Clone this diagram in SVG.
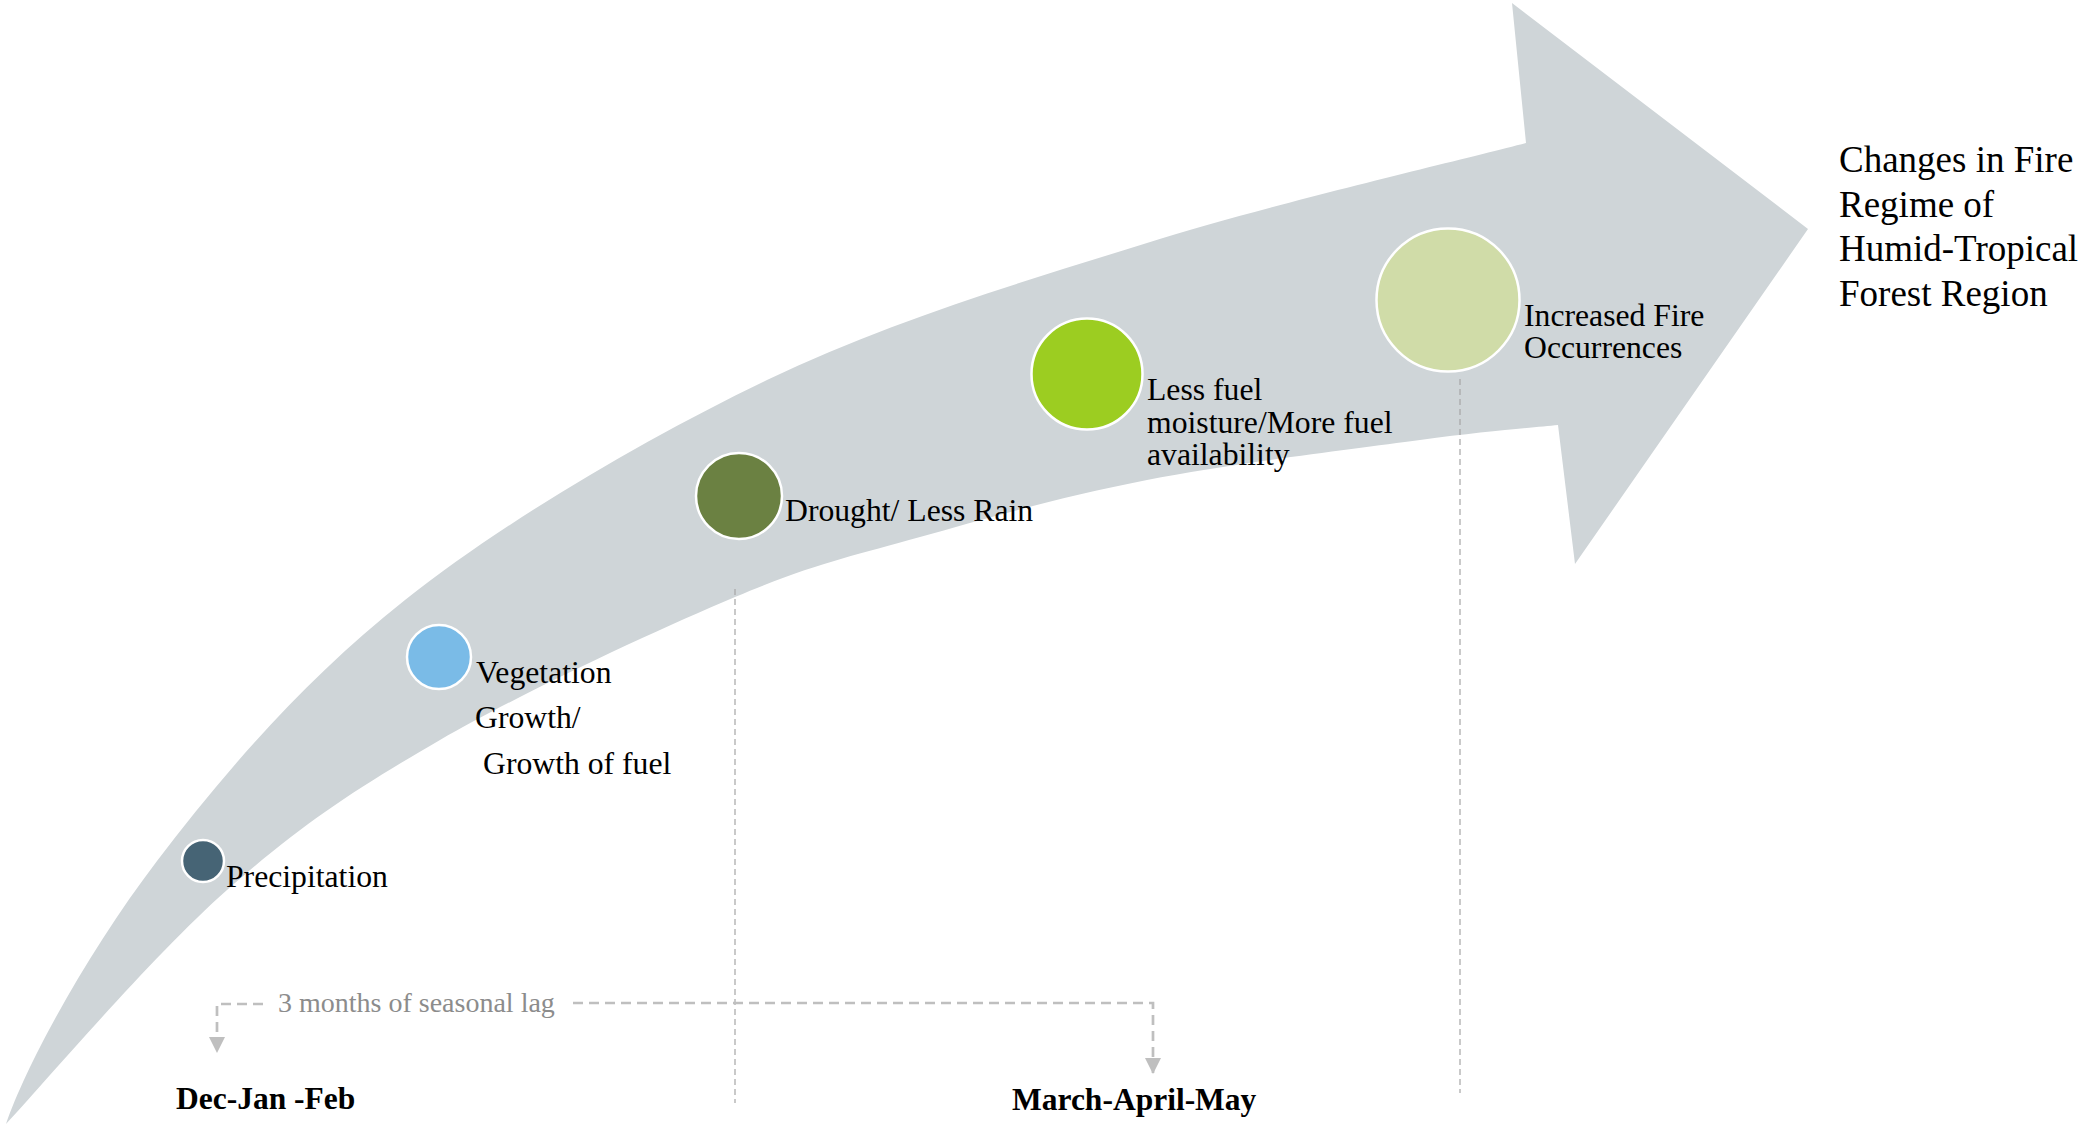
<svg xmlns="http://www.w3.org/2000/svg" width="2084" height="1125" viewBox="0 0 2084 1125">
<style>
.lbl{font-family:"Liberation Serif","Times New Roman",serif;fill:#000;font-size:31.7px;}
.bold{font-family:"Liberation Serif","Times New Roman",serif;font-weight:bold;fill:#000;font-size:31.5px;}
.dot{stroke:#fff;stroke-width:2.5;}
.guide{fill:none;stroke:#a6a6a6;stroke-width:1.2;stroke-dasharray:6 4;}
.lag{fill:none;stroke:#bfbfbf;stroke-width:2.7;stroke-dasharray:10 6;}
</style>
<defs>
<marker id="ah" markerUnits="userSpaceOnUse" markerWidth="16" markerHeight="16" viewBox="0 0 10 10" refX="10" refY="5" orient="auto">
<path d="M0,0 L10,5 L0,10 z" fill="#bfbfbf"/>
</marker>
</defs>
<rect width="2084" height="1125" fill="#fff"/>
<g id="band">
<path fill="#cfd5d8" d="M6,1124 C28,1060 90.7,948 157,861 C223.3,774 303.3,680.2 405,600 C506.7,519.8 643.3,439.5 767,380 C890.7,320.5 1020.5,282.5 1147,243 C1273.5,203.5 1462.8,159.7 1526,143 L1512,3 L1808,229 L1575,564 L1558,425 C1535,427.5 1488.5,430.8 1420,440 C1351.5,449.2 1230.3,463.8 1147,480 C1063.7,496.2 988.7,517.5 920,537 C851.3,556.5 815,563.2 735,597 C655,630.8 524.7,691.2 440,740 C355.3,788.8 299.3,826 227,890 C150,958 40,1088 6,1124 Z"/>
</g>
<g id="connectors">
<path class="guide" d="M735,589 V1103"/>
<path class="guide" d="M1460,379 V1093"/>
<path class="lag" d="M263,1004 H217 V1053" marker-end="url(#ah)"/>
<path class="lag" d="M573,1003 H1153 V1074" marker-end="url(#ah)"/>
</g>
<g id="precipitation">
<circle class="dot" cx="203" cy="861" r="21" fill="#466475"/>
<text class="lbl" x="226" y="887">Precipitation</text>
</g>
<g id="vegetation">
<circle class="dot" cx="439" cy="657" r="32" fill="#7abbe7"/>
<text class="lbl"><tspan x="476" y="683">Vegetation</tspan><tspan x="475" y="728">Growth/</tspan><tspan x="483" y="774">Growth of fuel</tspan></text>
</g>
<g id="drought">
<circle class="dot" cx="739" cy="496" r="43" fill="#6b8142"/>
<text class="lbl" x="785" y="521">Drought/ Less Rain</text>
</g>
<g id="fuel">
<circle class="dot" cx="1087" cy="374" r="55.5" fill="#9ccd21"/>
<text class="lbl"><tspan x="1147" y="400">Less fuel</tspan><tspan x="1147" y="433">moisture/More fuel</tspan><tspan x="1147" y="465">availability</tspan></text>
</g>
<g id="fire">
<circle class="dot" cx="1448" cy="300" r="71.5" fill="#d0dca8"/>
<text class="lbl"><tspan x="1524" y="326">Increased Fire</tspan><tspan x="1524" y="358">Occurrences</tspan></text>
</g>
<g id="title">
<text class="lbl" font-size="37" style="font-size:37px"><tspan x="1839" y="172">Changes in Fire</tspan><tspan x="1839" y="216.5">Regime of</tspan><tspan x="1839" y="261">Humid-Tropical</tspan><tspan x="1839" y="305.5">Forest Region</tspan></text>
</g>
<g id="lag-label">
<text x="278" y="1012" font-size="28" fill="#8c8c8c" font-family="'Liberation Serif','Times New Roman',serif">3 months of seasonal lag</text>
</g>
<g id="season-djf">
<text class="bold" x="176" y="1109">Dec-Jan -Feb</text>
</g>
<g id="season-mam">
<text class="bold" x="1012" y="1110">March-April-May</text>
</g>
</svg>
